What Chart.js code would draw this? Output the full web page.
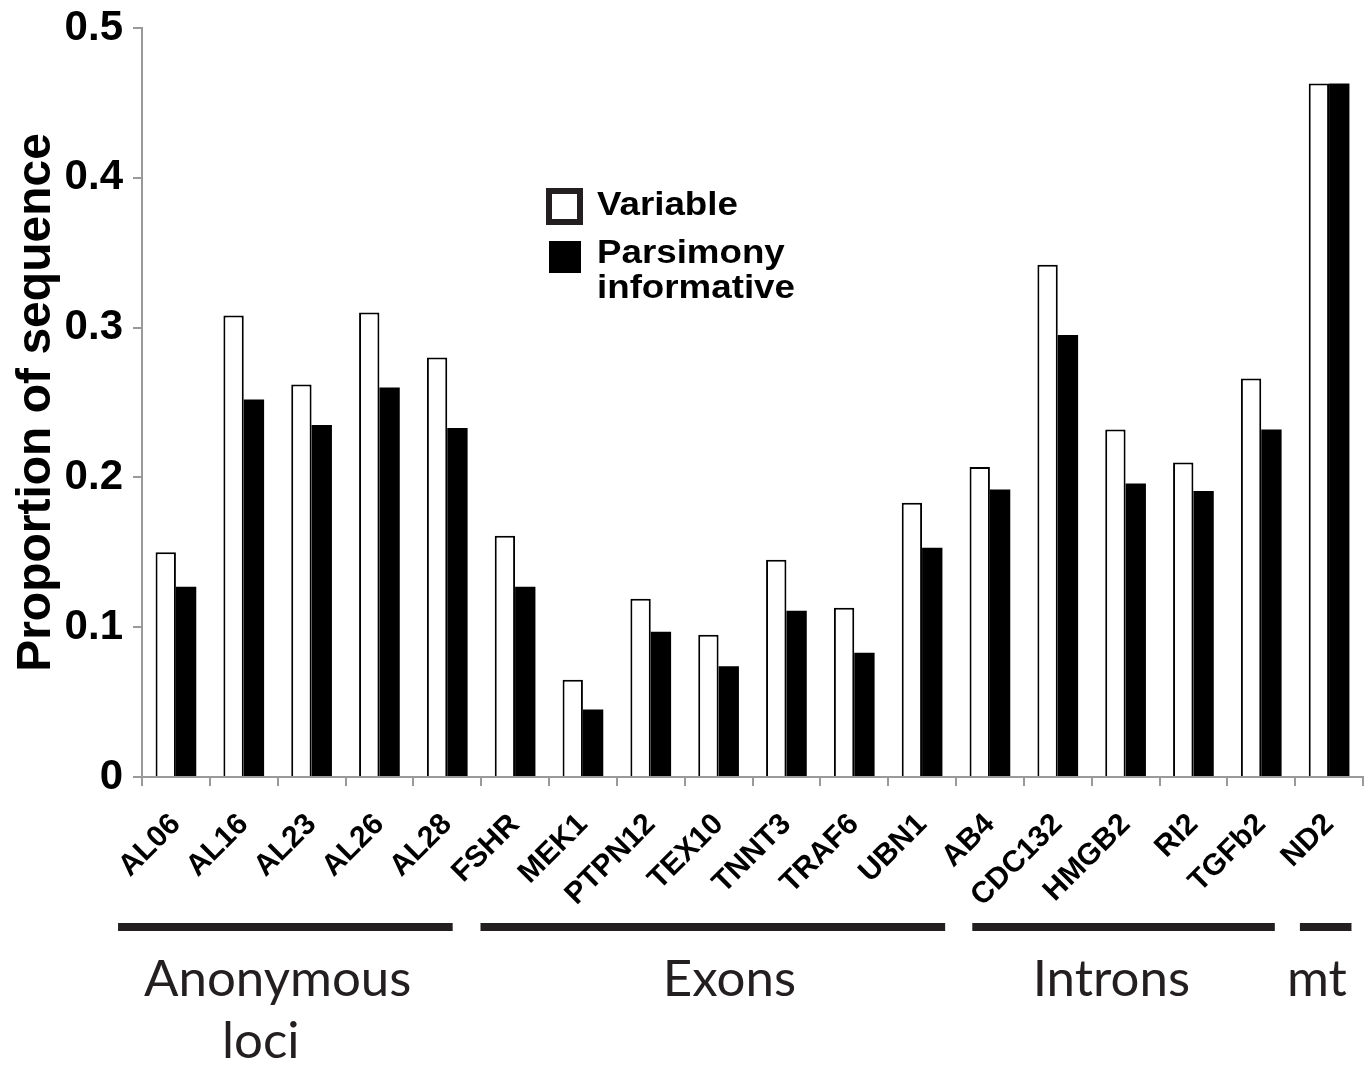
<!DOCTYPE html>
<html><head><meta charset="utf-8">
<script src="https://cdn.jsdelivr.net/npm/chart.js@4"></script>
<style>html,body{margin:0;padding:0;background:#fff}#wrap{width:1369px;height:1066px;position:relative}</style>
</head><body><div id="wrap"><canvas id="c" width="1369" height="1066" style="width:1369px;height:1066px"></canvas></div>
<script>
const categories = ['AL06','AL16','AL23','AL26','AL28','FSHR','MEK1','PTPN12','TEX10','TNNT3','TRAF6','UBN1','AB4','CDC132','HMGB2','RI2','TGFb2','ND2'];
const variableValues = [0.150,0.308,0.262,0.310,0.280,0.161,0.065,0.119,0.095,0.145,0.113,0.183,0.207,0.342,0.232,0.210,0.266,0.463];
const parsimonyValues = [0.127,0.252,0.235,0.260,0.233,0.127,0.045,0.097,0.074,0.111,0.083,0.153,0.192,0.295,0.196,0.191,0.232,0.463];
const yTickValues = [0,0.1,0.2,0.3,0.4,0.5];
const seriesNames = ['Variable','Parsimony informative'];
const groupNames = [['Anonymous','loci'],['Exons'],['Introns'],['mt']];

// annotation geometry (in category units), for the group brackets below the axis
const groupSpans = [[-0.853,4.08],[4.49,11.34],[11.74,16.2],[16.57,17.33]];
const groupLabelPos = [[1.50,1.25],[8.16],[13.79],[16.82]];

const annot = {
  id:'annot',
  afterDraw(chart){
    const ctx = chart.ctx, xs = chart.scales.x;
    ctx.save();
    ctx.fillStyle = '#231f20';
    groupSpans.forEach(s=>{
      const a = xs.getPixelForValue(s[0]), b = xs.getPixelForValue(s[1]);
      ctx.fillRect(a, 923, b-a, 8);
    });
    ctx.font = '51px Lato';
    ctx.textAlign = 'center';
    ctx.textBaseline = 'alphabetic';
    groupNames.forEach((lines,gi)=>{
      lines.forEach((t,li)=>{
        ctx.fillText(t, xs.getPixelForValue(groupLabelPos[gi][li]), 996 + li*62);
      });
    });
    // legend
    ctx.strokeStyle = '#231f20';
    ctx.lineWidth = 6;
    ctx.fillStyle = '#fff';
    ctx.fillRect(549,191,31,31);
    ctx.strokeRect(549,191,31,31);
    ctx.fillStyle = '#000';
    ctx.fillRect(549,241,32,32);
    ctx.font = 'bold 34px "Liberation Sans", Arial, sans-serif';
    ctx.textAlign = 'left';
    const drawT = (t,x,y)=>{ctx.save();ctx.translate(x,y);ctx.scale(1.08,1);ctx.fillText(t,0,0);ctx.restore();};
    drawT('Variable',597,215);
    drawT('Parsimony',597,263);
    drawT('informative',597,298);
    ctx.restore();
  }
};

new Chart(document.getElementById('c'), {
  type:'bar',
  data:{
    labels: categories,
    datasets:[
      {label:seriesNames[0], data:variableValues, backgroundColor:'#fff', borderColor:'#000', borderWidth:2, borderSkipped:'start'},
      {label:seriesNames[1], data:parsimonyValues, backgroundColor:'#000', borderWidth:0}
    ]
  },
  plugins:[annot],
  options:{
    responsive:false,
    animation:false,
    devicePixelRatio:1,
    datasets:{bar:{categoryPercentage:0.6, barPercentage:1.0}},
    layout:{padding:{top:28,right:6,left:0,bottom:0}},
    plugins:{legend:{display:false}, tooltip:{enabled:false}},
    scales:{
      x:{
        grid:{display:true, drawOnChartArea:false, drawTicks:true, tickLength:9, color:'#999', lineWidth:2, offset:true},
        border:{display:true, color:'#999', width:2},
        ticks:{color:'#000', font:{family:'"Liberation Sans", Arial, sans-serif', weight:'bold', size:30}, minRotation:45, maxRotation:45, autoSkip:false, padding:21},
        afterFit(s){ s.height = 289; s.paddingLeft = 0; s.paddingRight = 0; }
      },
      y:{
        min:0, max:0.5,
        afterBuildTicks(s){ s.ticks = yTickValues.map(v=>({value:v})); },
        grid:{display:true, drawOnChartArea:false, drawTicks:true, tickLength:9, color:'#999', lineWidth:2},
        border:{display:true, color:'#999', width:2},
        ticks:{color:'#000', font:{family:'"Liberation Sans", Arial, sans-serif', weight:'bold', size:42}, padding:10,
          callback:(v)=> v===0 ? '0' : String(v)},
        title:{display:true, text:'Proportion of sequence', color:'#000', font:{family:'"Liberation Sans", Arial, sans-serif', weight:'bold', size:48}, padding:{top:8,bottom:0}},
        afterFit(s){ s.width = 142; s.paddingTop = 0; s.paddingBottom = 0; }
      }
    }
  }
});
</script>
</body></html>
